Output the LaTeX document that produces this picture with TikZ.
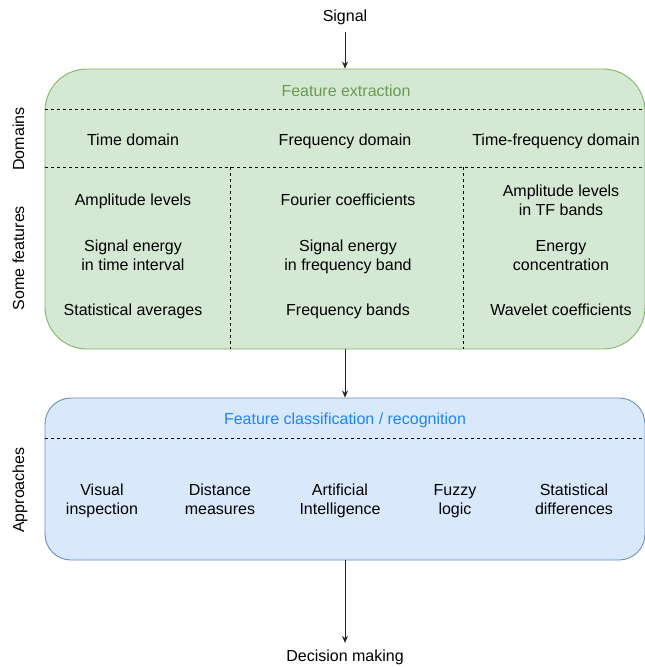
\documentclass[tikz,border=0pt]{standalone}
\usepackage{fontspec}
\setmainfont{Liberation Sans}
\usetikzlibrary{arrows.meta}
\definecolor{gfill}{HTML}{D5E8D4}
\definecolor{gline}{HTML}{82B366}
\definecolor{gtext}{HTML}{6A9A52}
\definecolor{bfill}{HTML}{DAE8FC}
\definecolor{bline}{HTML}{6C8EBF}
\definecolor{btext}{HTML}{1A85FF}
\begin{document}
\begin{tikzpicture}[x=1pt,y=-1pt,
  font=\fontsize{16}{19}\selectfont,
  txt/.style={align=center,inner sep=0pt,text height=12pt,text depth=4pt},
  endtxt/.style={align=center,inner sep=7pt},
  gbox/.style={draw=gline,fill=gfill,line width=0.9pt,rounded corners=42pt,minimum width=600pt,minimum height=280pt,inner sep=0pt},
  bbox/.style={draw=bline,fill=bfill,line width=0.9pt,rounded corners=26pt,minimum width=600pt,minimum height=162pt,inner sep=0pt},
  sep/.style={dash pattern=on 3pt off 3pt,line width=0.8pt,black},
  flow/.style={-{Stealth[length=7pt,width=6pt]},line width=0.8pt,black!85}]
\useasboundingbox (0,0) rectangle (645,667);
% boxes
\node[gbox] (fe) at (345,209) {};
\node[bbox] (fc) at (345,479) {};
% separators
\coordinate (s1l) at (45,109); \coordinate (s1r) at (645,109);
\coordinate (s2l) at (45,167); \coordinate (s2r) at (645,167);
\coordinate (v1t) at (230,167); \coordinate (v1b) at (230,349);
\coordinate (v2t) at (463,167); \coordinate (v2b) at (463,349);
\coordinate (s3l) at (45,438); \coordinate (s3r) at (645,438);
\draw[sep] (s1l) -- (s1r);
\draw[sep] (s2l) -- (s2r);
\draw[sep] (v1t) -- (v1b);
\draw[sep] (v2t) -- (v2b);
\draw[sep] (s3l) -- (s3r);
% end texts
\node[endtxt] (sig) at (345,17.5) {Signal};
\node[endtxt] (dec) at (345,657.5) {Decision making};
\draw[flow] (sig) -- (fe);
\draw[flow] (fe) -- (fc);
\draw[flow] (fc) -- (dec);
% titles
\node[txt,text=gtext] (fet) at (346,92.5) {Feature extraction};
\node[txt,text=btext] (fct) at (345,420.5) {Feature classification / recognition};
% side labels
\node[txt,rotate=90] (ldom) at (20,139) {Domains};
\node[txt,rotate=90] (lfeat) at (20,258) {Some features};
\node[txt,rotate=90] (lapp) at (20,490) {Approaches};
% domains
\node[txt] (d1) at (133,141) {Time domain};
\node[txt] (d2) at (345,141) {Frequency domain};
\node[txt] (d3) at (556,141) {Time-frequency domain};
% features
\node[txt] (f11) at (133,201) {Amplitude levels};
\node[txt] (f12) at (133,266) {Signal energy\\in time interval};
\node[txt] (f13) at (133,311.5) {Statistical averages};
\node[txt] (f21) at (348,201) {Fourier coefficients};
\node[txt] (f22) at (348,266) {Signal energy\\in frequency band};
\node[txt] (f23) at (348,311.5) {Frequency bands};
\node[txt] (f31) at (561,211) {Amplitude levels\\in TF bands};
\node[txt] (f32) at (561,266) {Energy\\concentration};
\node[txt] (f33) at (561,311.5) {Wavelet coefficients};
% approaches
\node[txt] (a1) at (102,510) {Visual\\inspection};
\node[txt] (a2) at (220,510) {Distance\\measures};
\node[txt] (a3) at (340,510) {Artificial\\Intelligence};
\node[txt] (a4) at (455,510) {Fuzzy\\logic};
\node[txt] (a5) at (574,510) {Statistical\\differences};
\end{tikzpicture}
\end{document}
